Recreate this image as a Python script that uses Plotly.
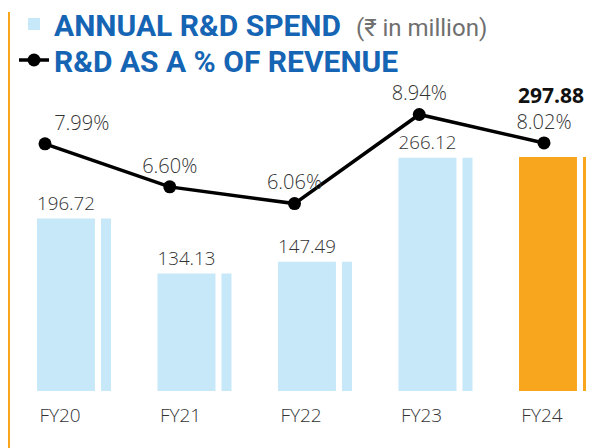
import plotly.graph_objects as go

years = ["FY20", "FY21", "FY22", "FY23", "FY24"]
spend = [196.72, 134.13, 147.49, 266.12, 297.88]
pct = [7.99, 6.60, 6.06, 8.94, 8.02]
pct_labels = ["7.99%", "6.60%", "6.06%", "8.94%", "8.02%"]
spend_labels = ["196.72", "134.13", "147.49", "266.12", ""]
highlight_label = "297.88"

BLUE_LIGHT = "#C7E8F8"
ORANGE = "#F7A61E"
TITLE_BLUE = "#1565B4"
TXT = "#333333"

bar_colors = [BLUE_LIGHT] * 4 + [ORANGE]

W, H = 586, 440          # page body has an 8px margin in the 594x448 window
B = 57
H_PLOT = H - B           # plot-area height (t=0)

fig = go.Figure()

fig.add_trace(go.Bar(
    x=years, y=spend,
    name="<b>ANNUAL R&amp;D SPEND</b>  <span style='font-size:24px;color:#6f6f6f;font-weight:normal'>(₹ in million)</span>",
    marker=dict(color=bar_colors, line=dict(width=0)),
    offset=-0.307, width=0.481,
    text=spend_labels, textposition="outside", cliponaxis=False,
    textfont=dict(family="Open Sans", size=20, color=TXT, weight=300),
    xaxis="x", yaxis="y", hoverinfo="skip", legend="legend",
))
fig.add_trace(go.Bar(
    x=years, y=spend, showlegend=False,
    marker=dict(color=bar_colors, line=dict(width=0)),
    offset=0.224, width=0.083,
    xaxis="x", yaxis="y", hoverinfo="skip",
))
fig.add_trace(go.Scatter(
    x=years, y=pct, name="<b>R&amp;D AS A % OF REVENUE</b>",
    mode="lines+markers+text",
    line=dict(color="#000000", width=3.5),
    marker=dict(color="#000000", size=13),
    text=pct_labels,
    textposition=["top right", "top center", "top center", "top center", "top center"],
    textfont=dict(family="Open Sans", size=20, color=TXT, weight=300),
    cliponaxis=False,
    xaxis="x2", yaxis="y2", legend="legend2",
))

fig.add_annotation(
    x="FY24", y=pct[4], xref="x2", yref="y2", text="<b>" + highlight_label + "</b>",
    showarrow=False, font=dict(family="Open Sans", size=21, color="#111111"),
    xshift=7, yshift=48,
)

fig.add_shape(type="line", xref="paper", yref="paper", x0=1/W, x1=1/W,
              y0=(H_PLOT-4)/H_PLOT, y1=-0.2, line=dict(color=ORANGE, width=2))

legend_font = dict(family="Roboto", size=30, color=TITLE_BLUE)
fig.update_layout(
    width=W, height=H,
    margin=dict(l=0, r=0, t=0, b=B, autoexpand=False),
    paper_bgcolor="white", plot_bgcolor="rgba(0,0,0,0)",
    barmode="overlay",
    showlegend=True,
    legend=dict(x=6/W, y=(H_PLOT-16)/H_PLOT, xanchor="left", yanchor="middle",
                bgcolor="rgba(0,0,0,0)", font=legend_font),
    legend2=dict(x=6/W, y=(H_PLOT-52)/H_PLOT, xanchor="left", yanchor="middle",
                 bgcolor="rgba(0,0,0,0)", font=legend_font),
    xaxis=dict(type="category", categoryorder="array", categoryarray=years,
               range=[-0.5477, 4.3154], showgrid=False, zeroline=False, showline=False,
               ticks="", tickfont=dict(family="Open Sans", size=19, color=TXT, weight=300),
               ticklabelshift=-14, ticklabelstandoff=11, anchor="y"),
    xaxis2=dict(type="category", categoryorder="array", categoryarray=years,
                range=[-0.2966, 4.4008], overlaying="x", visible=False, anchor="y2"),
    yaxis=dict(domain=[0, 0.611], range=[0, 267], visible=False, showgrid=False),
    yaxis2=dict(domain=[0, 1], range=[0, 12.383], visible=False, showgrid=False, anchor="x2"),
)

fig.write_html("out.html")
